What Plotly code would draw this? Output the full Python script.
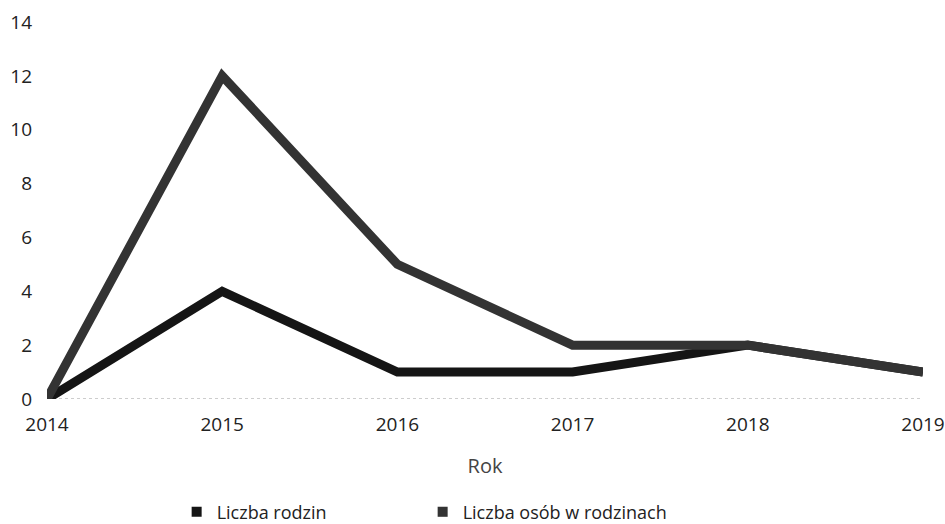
import plotly.graph_objects as go

years = [2014, 2015, 2016, 2017, 2018, 2019]
liczba_rodzin = [0, 4, 1, 1, 2, 1]
liczba_osob = [0, 12, 5, 2, 2, 1]
series_names = ["Liczba rodzin", "Liczba osób w rodzinach"]
y_ticks = [0, 2, 4, 6, 8, 10, 12, 14]

c1 = "#151515"
c2 = "#333333"

fig = go.Figure()
fig.add_trace(go.Scatter(x=years, y=liczba_rodzin, mode="lines", name=series_names[0],
                         line=dict(color=c1, width=9), showlegend=False))
fig.add_trace(go.Scatter(x=years, y=liczba_osob, mode="lines", name=series_names[1],
                         line=dict(color=c2, width=9), showlegend=False))
# legend entries with rectangle markers
fig.add_trace(go.Scatter(x=[None], y=[None], mode="markers", name=series_names[0],
                         marker=dict(symbol="square", color=c1, size=10)))
fig.add_trace(go.Scatter(x=[None], y=[None], mode="markers", name=series_names[1],
                         marker=dict(symbol="square", color=c2, size=10)))

fig.add_shape(type="line", xref="paper", yref="y", x0=0, x1=1, y0=0, y1=0,
              line=dict(color="#9a9a9a", width=1, dash="dot"), layer="below")

fig.update_layout(
    width=945, height=524,
    margin=dict(l=47, r=22, t=22, b=125, autoexpand=False),
    paper_bgcolor="white", plot_bgcolor="white",
    font=dict(family="Open Sans", size=18, color="#222222"),
    xaxis=dict(range=[2014, 2019], tickvals=years, ticktext=[str(y) for y in years],
               showgrid=False, zeroline=False, showline=False, automargin=False,
               ticks="", ticklabelstandoff=12, ticklabeloverflow="allow",
               tickfont=dict(size=19),
               title=dict(text="Rok", standoff=22, font=dict(size=20, color="#444444"))),
    yaxis=dict(range=[0, 14], tickvals=y_ticks, showgrid=False, zeroline=False,
               showline=False, ticks="", ticklabelstandoff=14, automargin=False,
               ticklabeloverflow="allow", tickfont=dict(size=19)),
    legend=dict(orientation="h", x=0.148, xanchor="left", y=-0.30, yanchor="middle",
                entrywidth=201, entrywidthmode="pixels", itemwidth=30,
                font=dict(size=18, color="#222222")),
)

fig.write_html(
    "out.html",
    config={"displayModeBar": False},
    post_script="document.body.style.margin='0';document.body.style.overflow='hidden';"
                "document.documentElement.style.overflow='hidden';",
)
